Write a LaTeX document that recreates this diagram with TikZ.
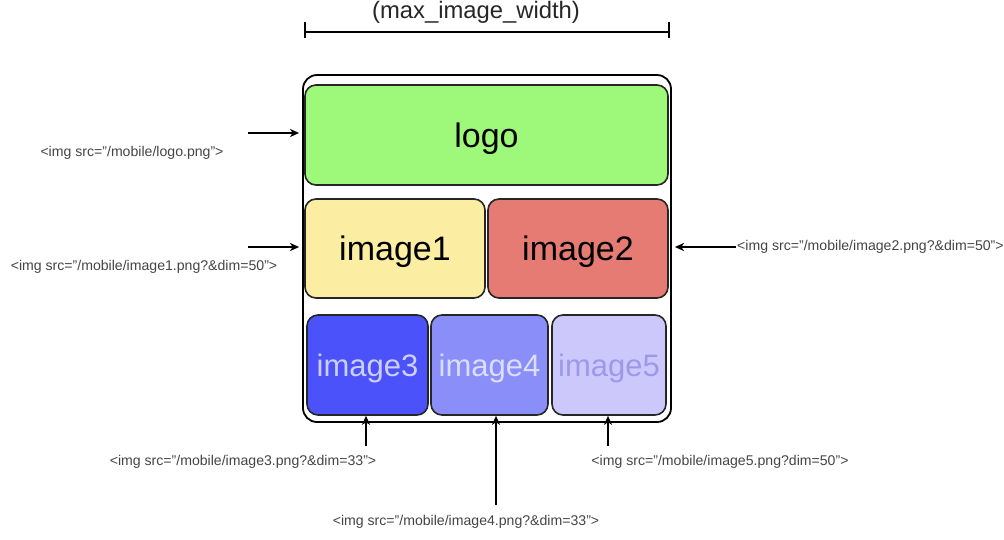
\documentclass[tikz,border=0pt]{standalone}
\usepackage{fontspec}
\setmainfont{Liberation Sans}
\usetikzlibrary{arrows.meta}
\definecolor{logoC}{HTML}{9EF87A}
\definecolor{imgA}{HTML}{FBEEA2}
\definecolor{imgB}{HTML}{E57B72}
\definecolor{imgC}{HTML}{4B52F9}
\definecolor{imgD}{HTML}{8A8EF8}
\definecolor{imgE}{HTML}{CDC8FC}
\definecolor{txtC}{HTML}{CDCFFF}
\definecolor{txtD}{HTML}{DCDEFF}
\definecolor{txtE}{HTML}{9C99EA}
\definecolor{lbl}{HTML}{444444}
\tikzset{
  tile/.style={draw=black!85, line width=1.6pt, rounded corners=11pt, inner sep=0pt, text depth=0pt},
  lbltext/.style={font=\fontsize{14.1}{16}\selectfont, text=lbl, inner sep=0pt},
  ptr/.style={line width=1.6pt, -{Stealth[length=9pt,width=8pt,inset=2.5pt]}},
}
\begin{document}
\begin{tikzpicture}[x=1pt,y=-1pt]
\useasboundingbox (0,0) rectangle (1004,539);
% dimension
\coordinate (dl) at (305,32);
\coordinate (dr) at (669,32);
\draw[line width=1.4pt] (dl) -- (dr);
\draw[line width=1.6pt] (305,22) -- (305,38) (669,22) -- (669,38);
\node[font=\fontsize{23.8}{27}\selectfont, text=black!85, inner sep=0pt] (title) at (476,12) {(max\_image\_width)};
% outer
\node[draw, line width=1.8pt, rounded corners=14pt, minimum width=368pt, minimum height=347pt, inner sep=0pt] (outer) at (487,248.5) {};
% tiles
\node[tile, fill=logoC, minimum width=363pt, minimum height=100pt, font=\fontsize{34}{38}\selectfont] (logo) at (486.5,135) {logo};
\node[tile, fill=imgA, minimum width=180pt, minimum height=99pt, font=\fontsize{34}{38}\selectfont] (im1) at (395,248.5) {image1};
\node[tile, fill=imgB, minimum width=180pt, minimum height=99pt, font=\fontsize{34}{38}\selectfont] (im2) at (578,248.5) {image2};
\node[tile, fill=imgC, minimum width=121pt, minimum height=100pt, font=\fontsize{31}{34}\selectfont, text=txtC] (im3) at (367.5,365) {image3};
\node[tile, fill=imgD, minimum width=117pt, minimum height=100pt, font=\fontsize{31}{34}\selectfont, text=txtD] (im4) at (489.5,365) {image4};
\node[tile, fill=imgE, minimum width=114pt, minimum height=100pt, font=\fontsize{31}{34}\selectfont, text=txtE] (im5) at (609,365) {image5};
% labels
\node[lbltext] (l0) at (132,153) {<img src="/mobile/logo.png">};
\node[lbltext] (l1) at (144,267) {<img src="/mobile/image1.png?\&dim=50">};
\node[lbltext, anchor=west] (l2) at (737,247) {<img src="/mobile/image2.png?\&dim=50">};
\node[lbltext] (l3) at (243,462) {<img src="/mobile/image3.png?\&dim=33">};
\node[lbltext] (l4) at (466,522) {<img src="/mobile/image4.png?\&dim=33">};
\node[lbltext] (l5) at (720,462) {<img src="/mobile/image5.png?dim=50">};
% arrows
\coordinate (a0) at (248,133);
\coordinate (a1) at (248,247);
\coordinate (a2) at (736,247);
\coordinate (a3) at (366,446);
\coordinate (a4) at (496,505);
\coordinate (a5) at (608,446);
\draw[ptr, shorten >=3pt] (a0) -- (a0 -| outer.west);
\draw[ptr, shorten >=3pt] (a1) -- (a1 -| outer.west);
\draw[ptr, shorten >=3pt] (a2) -- (a2 -| outer.east);
\draw[ptr] (a3) -- (a3 |- im3.south);
\draw[ptr] (a4) -- (a4 |- im4.south);
\draw[ptr] (a5) -- (a5 |- im5.south);
\end{tikzpicture}
\end{document}
